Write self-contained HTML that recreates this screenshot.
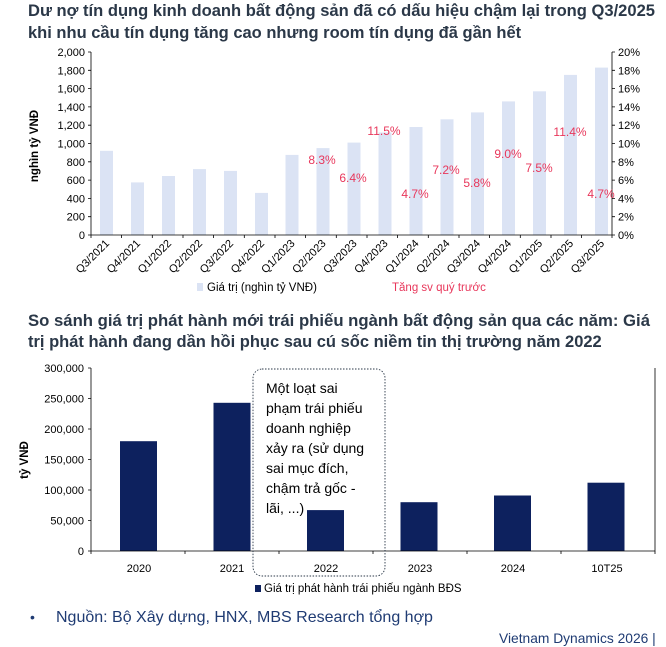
<!DOCTYPE html>
<html><head><meta charset="utf-8"><style>
body{margin:0;background:#fff;width:666px;height:647px;overflow:hidden;font-family:"Liberation Sans",Arial,sans-serif}
svg{display:block}
.t{font-weight:bold;font-size:16.5px;fill:#2b3848}
.ax{font-size:11px;fill:#000}
.p{font-size:12px;fill:#e8375b}
</style></head><body>
<svg width="666" height="647" viewBox="0 0 666 647" xmlns="http://www.w3.org/2000/svg" font-family="Liberation Sans, Noto Sans CJK SC, sans-serif">
<text class="t" x="28" y="16" textLength="627" lengthAdjust="spacingAndGlyphs">Dư nợ tín dụng kinh doanh bất động sản đã có dấu hiệu chậm lại trong Q3/2025</text>
<text class="t" x="28" y="38">khi nhu cầu tín dụng tăng cao nhưng room tín dụng đã gần hết</text>

<g fill="#dbe3f4">
<rect x="100" y="150.8" width="13" height="84.2"/>
<rect x="131" y="182.4" width="13" height="52.6"/>
<rect x="162" y="176" width="13" height="59"/>
<rect x="193" y="169.1" width="13" height="65.9"/>
<rect x="224" y="170.9" width="13" height="64.1"/>
<rect x="255" y="192.9" width="13" height="42.1"/>
<rect x="285.5" y="154.9" width="13" height="80.1"/>
<rect x="316.5" y="148.1" width="13" height="86.9"/>
<rect x="347.5" y="142.6" width="13" height="92.4"/>
<rect x="378.5" y="132.5" width="13" height="102.5"/>
<rect x="409.5" y="127" width="13" height="108"/>
<rect x="440.5" y="119.3" width="13" height="115.7"/>
<rect x="471" y="112.4" width="13" height="122.6"/>
<rect x="502" y="101.4" width="13" height="133.6"/>
<rect x="533" y="91.3" width="13" height="143.7"/>
<rect x="564" y="74.9" width="13" height="160.1"/>
<rect x="595" y="67.6" width="13" height="167.4"/>
</g>
<g stroke="#000" stroke-width="0.8" fill="none">
<path d="M91 52V235H612V52"/>
<path d="M88 52H91M88 70.3H91M88 88.6H91M88 106.9H91M88 125.2H91M88 143.5H91M88 161.8H91M88 180.1H91M88 198.4H91M88 216.7H91M88 235H91"/>
<path d="M612 52H615M612 70.3H615M612 88.6H615M612 106.9H615M612 125.2H615M612 143.5H615M612 161.8H615M612 180.1H615M612 198.4H615M612 216.7H615M612 235H615"/>
<path d="M91 235v3M121.6 235v3M152.3 235v3M183 235v3M213.6 235v3M244.3 235v3M275 235v3M305.6 235v3M336.3 235v3M367 235v3M397.6 235v3M428.3 235v3M459 235v3M489.6 235v3M520.3 235v3M551 235v3M581.6 235v3M612 235v3"/>
</g>
<g class="ax" text-anchor="end">
<text x="85" y="56">2,000</text><text x="85" y="74.3">1,800</text><text x="85" y="92.6">1,600</text><text x="85" y="110.9">1,400</text><text x="85" y="129.2">1,200</text><text x="85" y="147.5">1,000</text><text x="85" y="165.8">800</text><text x="85" y="184.1">600</text><text x="85" y="202.4">400</text><text x="85" y="220.7">200</text><text x="85" y="239">0</text>
</g>
<g class="ax" text-anchor="start">
<text x="618" y="56">20%</text><text x="618" y="74.3">18%</text><text x="618" y="92.6">16%</text><text x="618" y="110.9">14%</text><text x="618" y="129.2">12%</text><text x="618" y="147.5">10%</text><text x="618" y="165.8">8%</text><text x="618" y="184.1">6%</text><text x="618" y="202.4">4%</text><text x="618" y="220.7">2%</text><text x="618" y="239">0%</text>
</g>
<text x="38" y="146" font-size="11.5" font-weight="bold" text-anchor="middle" transform="rotate(-90 38 146)">nghìn tỷ VNĐ</text>
<g class="ax" text-anchor="end" font-size="10.5">
<text transform="translate(110,244) rotate(-45)">Q3/2021</text>
<text transform="translate(141,244) rotate(-45)">Q4/2021</text>
<text transform="translate(172,244) rotate(-45)">Q1/2022</text>
<text transform="translate(203,244) rotate(-45)">Q2/2022</text>
<text transform="translate(234,244) rotate(-45)">Q3/2022</text>
<text transform="translate(265,244) rotate(-45)">Q4/2022</text>
<text transform="translate(295.5,244) rotate(-45)">Q1/2023</text>
<text transform="translate(326.5,244) rotate(-45)">Q2/2023</text>
<text transform="translate(357.5,244) rotate(-45)">Q3/2023</text>
<text transform="translate(388.5,244) rotate(-45)">Q4/2023</text>
<text transform="translate(419.5,244) rotate(-45)">Q1/2024</text>
<text transform="translate(450.5,244) rotate(-45)">Q2/2024</text>
<text transform="translate(481,244) rotate(-45)">Q3/2024</text>
<text transform="translate(512,244) rotate(-45)">Q4/2024</text>
<text transform="translate(543,244) rotate(-45)">Q1/2025</text>
<text transform="translate(574,244) rotate(-45)">Q2/2025</text>
<text transform="translate(605,244) rotate(-45)">Q3/2025</text>
</g>
<g class="p" text-anchor="middle">
<text x="322" y="164">8.3%</text>
<text x="353" y="182">6.4%</text>
<text x="384" y="135">11.5%</text>
<text x="415" y="198">4.7%</text>
<text x="446" y="174">7.2%</text>
<text x="477" y="187">5.8%</text>
<text x="508" y="158">9.0%</text>
<text x="539" y="172">7.5%</text>
<text x="570" y="136">11.4%</text>
<text x="601" y="198">4.7%</text>
</g>
<rect x="197" y="283" width="6" height="8" fill="#dbe3f4"/>
<text x="207" y="291" font-size="11.5">Giá trị (nghìn tỷ VNĐ)</text>
<text x="392" y="291" font-size="11.5" fill="#e8375b">Tăng sv quý trước</text>

<text class="t" x="28" y="326" textLength="622" lengthAdjust="spacingAndGlyphs">So sánh giá trị phát hành mới trái phiếu ngành bất động sản qua các năm: Giá</text>
<text class="t" x="28" y="347">trị phát hành đang dần hồi phục sau cú sốc niềm tin thị trường năm 2022</text>

<g fill="#0d215e">
<rect x="120" y="441.2" width="37" height="109.8"/>
<rect x="213.5" y="402.8" width="37" height="148.2"/>
<rect x="307" y="510.1" width="37" height="40.9"/>
<rect x="400.5" y="502.2" width="37" height="48.8"/>
<rect x="494" y="495.5" width="37" height="55.5"/>
<rect x="587.5" y="482.7" width="37" height="68.3"/>
</g>
<g stroke="#000" stroke-width="0.8" fill="none">
<path d="M91 368V551H655V368"/>
<path d="M88 368H91M88 398.5H91M88 429H91M88 459.5H91M88 490H91M88 520.5H91M88 551H91"/>
<path d="M91 551v3M185 551v3M279 551v3M373 551v3M467 551v3M561 551v3M655 551v3"/>
</g>
<g class="ax" text-anchor="end" font-size="11.5">
<text x="84" y="372">300,000</text><text x="84" y="402.5">250,000</text><text x="84" y="433">200,000</text><text x="84" y="463.5">150,000</text><text x="84" y="494">100,000</text><text x="84" y="524.5">50,000</text><text x="84" y="555">0</text>
</g>
<text x="28" y="460" font-size="11.5" font-weight="bold" text-anchor="middle" transform="rotate(-90 28 460)">tỷ VNĐ</text>
<g class="ax" text-anchor="middle" font-size="12">
<text x="139" y="572">2020</text><text x="232" y="572">2021</text><text x="326" y="572">2022</text><text x="420" y="572">2023</text><text x="513" y="572">2024</text><text x="607" y="572">10T25</text>
</g>
<rect x="253" y="369" width="132" height="207" rx="9" fill="none" stroke="#2b3848" stroke-width="0.9" stroke-dasharray="1.5,1.5"/>
<g font-size="14" fill="#000">
<text x="266" y="393">Một loạt sai</text>
<text x="266" y="413">phạm trái phiếu</text>
<text x="266" y="433">doanh nghiệp</text>
<text x="266" y="453">xảy ra (sử dụng</text>
<text x="266" y="473">sai mục đích,</text>
<text x="266" y="493">chậm trả gốc -</text>
<text x="266" y="513">lãi, ...)</text>
</g>
<rect x="255" y="585" width="6" height="7" fill="#0d215e"/>
<text x="264" y="592" font-size="11.5">Giá trị phát hành trái phiếu ngành BĐS</text>

<text x="30" y="622" font-size="14" fill="#1f3b73">•</text>
<text x="56" y="622" font-size="16" fill="#1f3b73">Nguồn: Bộ Xây dựng, HNX, MBS Research tổng hợp</text>
<text x="499" y="643" font-size="13.8" fill="#1f3b73">Vietnam Dynamics 2026 |</text>
</svg>
</body></html>
